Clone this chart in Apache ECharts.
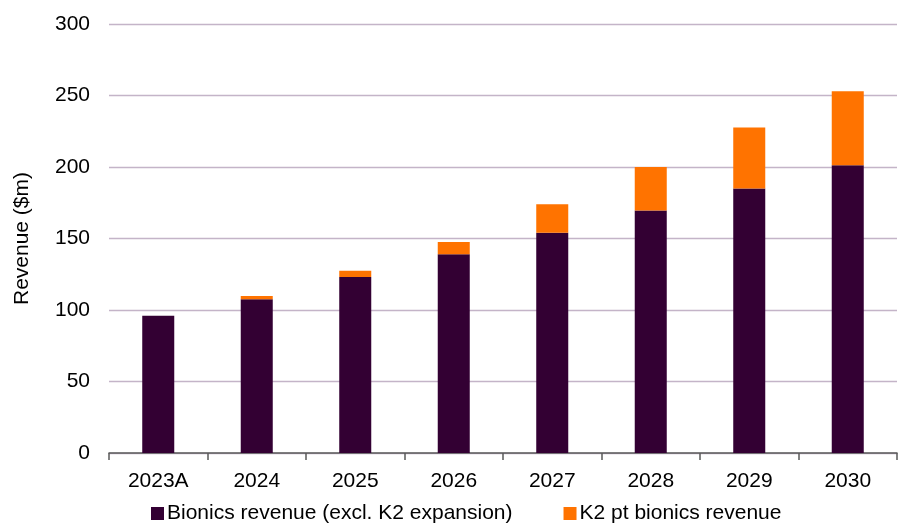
<!DOCTYPE html>
<html>
<head>
<meta charset="utf-8">
<script src="https://cdn.jsdelivr.net/npm/echarts@6/dist/echarts.min.js"></script>
<style>
  html, body { margin: 0; padding: 0; background: #fff; }
  #chart { width: 905px; height: 524px; }
</style>
</head>
<body>
<div id="chart"></div>
<script>
// Revenue build-up by year ($m)
const categories = ['2023A', '2024', '2025', '2026', '2027', '2028', '2029', '2030'];
const bionicsCore = [96, 107.5, 123, 139, 154, 169.5, 185, 201.3];
const k2Bionics = [0, 2.3, 4.5, 8.5, 20, 30.5, 42.6, 51.7];
const yTicks = { min: 0, max: 300, interval: 50 };

const font = 'Liberation Sans, Arial, sans-serif';
const fs = 21;
const chart = echarts.init(document.getElementById('chart'), null, { renderer: 'canvas' });

chart.setOption({
  animation: false,
  textStyle: { fontFamily: font },
  grid: { left: 109, right: 8, top: 24, bottom: 71, containLabel: false },
  legend: {
    bottom: 0,
    left: 151,
    padding: 0,
    itemWidth: 13,
    itemHeight: 13,
    itemGap: 51,
    icon: 'rect',
    textStyle: { fontFamily: font, fontSize: fs, color: '#000', padding: [0, 0, 0, -2] },
    data: ['Bionics revenue (excl. K2 expansion)', 'K2 pt bionics revenue']
  },
  xAxis: {
    type: 'category',
    data: categories,
    axisLine: { lineStyle: { color: '#595959', width: 1.5 } },
    axisTick: { show: true, length: 7, lineStyle: { color: '#595959', width: 1.5 } },
    axisLabel: { fontFamily: font, fontSize: fs, color: '#000', margin: 18 }
  },
  yAxis: {
    type: 'value',
    min: yTicks.min,
    max: yTicks.max,
    interval: yTicks.interval,
    name: 'Revenue ($m)',
    nameLocation: 'middle',
    nameGap: 76,
    nameTextStyle: { fontFamily: font, fontSize: fs, color: '#000' },
    axisLine: { show: false },
    axisTick: { show: false },
    axisLabel: { fontFamily: font, fontSize: fs, color: '#000', margin: 19 },
    splitLine: { lineStyle: { color: '#c4b4c8', width: 1.3 } }
  },
  series: [
    {
      name: 'Bionics revenue (excl. K2 expansion)',
      type: 'bar',
      stack: 'rev',
      barWidth: '32.5%',
      itemStyle: { color: '#330033' },
      data: bionicsCore
    },
    {
      name: 'K2 pt bionics revenue',
      type: 'bar',
      stack: 'rev',
      barWidth: '32.5%',
      itemStyle: { color: '#ff7300' },
      data: k2Bionics
    }
  ]
});
</script>
</body>
</html>
